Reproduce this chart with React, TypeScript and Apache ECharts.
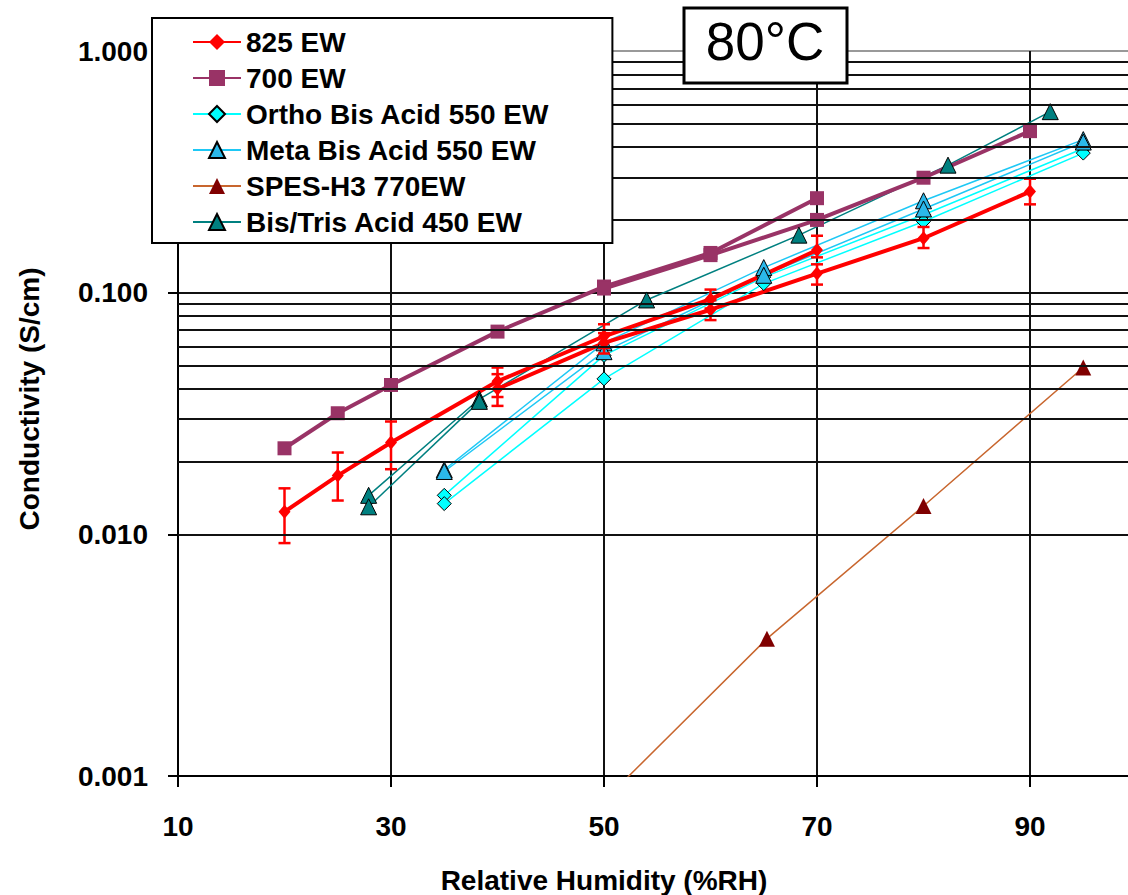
import React, { useEffect, useRef } from "react";
import * as echarts from "echarts";

// Relative humidity (%RH) and conductivity (S/cm) at 80 °C
const rh825A = [20, 25, 30, 40, 50, 60, 70];
const sigma825A = [0.0124, 0.0175, 0.024, 0.043, 0.066, 0.094, 0.15];
const low825A = [0.0092, 0.0138, 0.0186, 0.037, 0.059, 0.086, 0.14];
const high825A = [0.0155, 0.0218, 0.0293, 0.049, 0.074, 0.103, 0.172];

const rh825B = [40, 50, 60, 70, 80, 90];
const sigma825B = [0.04, 0.062, 0.085, 0.12, 0.168, 0.262];
const low825B = [0.034, 0.056, 0.077, 0.108, 0.153, 0.232];
const high825B = [0.046, 0.068, 0.093, 0.131, 0.187, 0.296];

const rh700A = [20, 25, 30, 40, 50, 60, 70];
const sigma700A = [0.0227, 0.0317, 0.0415, 0.069, 0.106, 0.146, 0.246];
const rh700B = [50, 60, 70, 80, 90];
const sigma700B = [0.104, 0.143, 0.2, 0.299, 0.466];

const rhOrtho = [35, 50, 65, 80, 95];
const sigmaOrthoA = [0.0145, 0.055, 0.116, 0.21, 0.395];
const sigmaOrthoB = [0.0134, 0.044, 0.109, 0.197, 0.378];

const rhMeta = [35, 50, 65, 80, 95];
const sigmaMetaA = [0.0185, 0.062, 0.127, 0.24, 0.43];
const sigmaMetaB = [0.0182, 0.057, 0.118, 0.222, 0.42];

const rhSpes = [50, 65.3, 80, 95];
const sigmaSpes = [0.00079, 0.0037, 0.0131, 0.049];

const rhBisTrisA = [27.9, 38.3, 54, 68.3, 82.3, 91.9];
const sigmaBisTrisA = [0.0145, 0.0363, 0.0933, 0.173, 0.337, 0.561];
const rhBisTrisB = [27.9, 38.3];
const sigmaBisTrisB = [0.013, 0.0355];

const seriesNames = [
  "825 EW",
  "700 EW",
  "Ortho Bis Acid 550 EW",
  "Meta Bis Acid 550 EW",
  "SPES-H3 770EW",
  "Bis/Tris Acid 450 EW",
];

const xTicks = [10, 30, 50, 70, 90];
const minorGridValues = [
  0.002, 0.003, 0.004, 0.005, 0.006, 0.007, 0.008, 0.009,
  0.02, 0.03, 0.04, 0.05, 0.06, 0.07, 0.08, 0.09,
  0.2, 0.3, 0.4, 0.5, 0.6, 0.7, 0.8, 0.9,
];

const FONT = "'Liberation Sans', Arial, sans-serif";

const pairs = (xs: number[], ys: number[]) => xs.map((x, i) => [x, ys[i]]);
const bars = (xs: number[], lo: number[], hi: number[]) =>
  xs.map((x, i) => [x, lo[i], hi[i]]);

function errorBarRender(params: any, api: any) {
  const x = api.value(0);
  const pLo = api.coord([x, api.value(1)]);
  const pHi = api.coord([x, api.value(2)]);
  const cap = 6;
  const style = { stroke: "#ff0000", lineWidth: 2.5 };
  return {
    type: "group",
    children: [
      { type: "line", shape: { x1: pLo[0], y1: pLo[1], x2: pHi[0], y2: pHi[1] }, style },
      { type: "line", shape: { x1: pLo[0] - cap, y1: pLo[1], x2: pLo[0] + cap, y2: pLo[1] }, style },
      { type: "line", shape: { x1: pHi[0] - cap, y1: pHi[1], x2: pHi[0] + cap, y2: pHi[1] }, style },
    ],
  };
}

function lineSeries(
  name: string,
  data: number[][],
  lineColor: string,
  lineWidth: number,
  symbol: string,
  symbolSize: number | number[],
  fill: string,
  border?: string
) {
  return {
    type: "line",
    name,
    data,
    symbol,
    symbolSize,
    showAllSymbol: true,
    clip: true,
    z: 2,
    lineStyle: { color: lineColor, width: lineWidth },
    itemStyle: border
      ? { color: fill, borderColor: border, borderWidth: 1 }
      : { color: fill, borderWidth: 0 },
    emphasis: { disabled: true },
  };
}

export default function App() {
  const ref = useRef<HTMLDivElement>(null);

  useEffect(() => {
    if (!ref.current) return;
    const chart = echarts.init(ref.current, null, { renderer: "svg" });

    const red = "#ff0000";
    const plum = "#993366";
    const teal = "#008080";

    chart.setOption({
      animation: false,
      backgroundColor: "#ffffff",
      grid: { left: 178, top: 51, right: 0, bottom: 119, containLabel: false },
      xAxis: {
        type: "value",
        min: 10,
        max: 99.2,
        interval: 20,
        axisLine: { show: true, onZero: false, lineStyle: { color: "#000", width: 2 } },
        axisTick: { show: true, length: 11, lineStyle: { color: "#000", width: 2 } },
        axisLabel: {
          margin: 36,
          fontSize: 28,
          fontWeight: "bold",
          fontFamily: FONT,
          color: "#000",
          showMaxLabel: false,
          formatter: (v: number) => (xTicks.indexOf(v) >= 0 ? String(v) : ""),
        },
        splitLine: {
          show: true,
          lineStyle: {
            color: ["#111", "#111", "#111", "#111", "#111", "rgba(0,0,0,0)"],
            width: 2,
          },
        },
      },
      yAxis: {
        type: "log",
        logBase: 10,
        min: 0.001,
        max: 1,
        axisLine: { show: true, onZero: false, lineStyle: { color: "#000", width: 2 } },
        axisTick: { show: true, length: 10, lineStyle: { color: "#000", width: 2 } },
        axisLabel: {
          margin: 30,
          fontSize: 28,
          fontWeight: "bold",
          fontFamily: FONT,
          color: "#000",
          formatter: (v: number) => v.toFixed(3),
        },
        splitLine: {
          show: true,
          lineStyle: { color: ["#111", "#111", "#111", "#999"], width: 2 },
        },
      },
      legend: {
        data: seriesNames,
        orient: "vertical",
        left: 152,
        top: 18,
        itemWidth: 48,
        itemHeight: 20,
        itemGap: 8,
        padding: [10, 63, 7, 40],
        backgroundColor: "#ffffff",
        borderColor: "#000",
        borderWidth: 2,
        selectedMode: false,
        z: 6,
        textStyle: {
          color: "#000",
          fontSize: 28,
          lineHeight: 28,
          fontWeight: "bold",
          fontFamily: FONT,
        },
      },
      graphic: [
        {
          type: "text",
          z: 10,
          x: 604,
          y: 880,
          style: {
            text: "Relative Humidity (%RH)",
            fontSize: 28,
            fontWeight: "bold",
            fontFamily: FONT,
            fill: "#000",
            align: "center",
            verticalAlign: "middle",
          },
        },
        {
          type: "text",
          z: 10,
          x: 29,
          y: 399,
          rotation: Math.PI / 2,
          style: {
            text: "Conductivity (S/cm)",
            fontSize: 28,
            fontWeight: "bold",
            fontFamily: FONT,
            fill: "#000",
            align: "center",
            verticalAlign: "middle",
          },
        },
        {
          type: "group",
          z: 20,
          children: [
            {
              type: "rect",
              shape: { x: 684, y: 8, width: 163, height: 75 },
              style: { fill: "#ffffff", stroke: "#000", lineWidth: 3 },
              z: 20,
            },
            {
              type: "text",
              x: 765,
              y: 41,
              z: 21,
              style: {
                text: "80°C",
                fontSize: 53,
                fontFamily: FONT,
                fill: "#000",
                align: "center",
                verticalAlign: "middle",
              },
            },
          ],
        },
      ],
      series: [
        {
          type: "line",
          name: "minor-grid",
          data: [],
          z: 1,
          silent: true,
          markLine: {
            silent: true,
            symbol: ["none", "none"],
            label: { show: false },
            lineStyle: { color: "#111", width: 2, type: "solid" },
            emphasis: { disabled: true },
            data: minorGridValues.map((v) => ({ yAxis: v })),
          },
        },
        lineSeries("SPES-H3 770EW", pairs(rhSpes, sigmaSpes), "#c8662e", 1.5, "triangle", 16, "#800000"),
        lineSeries("Bis/Tris Acid 450 EW", pairs(rhBisTrisA, sigmaBisTrisA), teal, 1.5, "triangle", 16, teal, "#000"),
        lineSeries("Bis/Tris Acid 450 EW", pairs(rhBisTrisB, sigmaBisTrisB), teal, 1.5, "triangle", 16, teal, "#000"),
        lineSeries("Ortho Bis Acid 550 EW", pairs(rhOrtho, sigmaOrthoA), "#00ffff", 1.5, "diamond", 14, "#00ffff", "#000"),
        lineSeries("Ortho Bis Acid 550 EW", pairs(rhOrtho, sigmaOrthoB), "#00ffff", 1.5, "diamond", 14, "#00ffff", "#000"),
        lineSeries("Meta Bis Acid 550 EW", pairs(rhMeta, sigmaMetaA), "#1ec8f5", 1.5, "triangle", 16, "#2bb8ea", "#000"),
        lineSeries("Meta Bis Acid 550 EW", pairs(rhMeta, sigmaMetaB), "#1ec8f5", 1.5, "triangle", 16, "#2bb8ea", "#000"),
        lineSeries("700 EW", pairs(rh700A, sigma700A), plum, 4, "rect", 14, plum),
        lineSeries("700 EW", pairs(rh700B, sigma700B), plum, 4, "rect", 14, plum),
        lineSeries("825 EW", pairs(rh825A, sigma825A), red, 4, "diamond", [12, 14], red),
        lineSeries("825 EW", pairs(rh825B, sigma825B), red, 4, "diamond", [12, 14], red),
        {
          type: "custom",
          name: "825 EW error A",
          z: 3,
          silent: true,
          renderItem: errorBarRender,
          encode: { x: 0, y: [1, 2] },
          data: bars(rh825A, low825A, high825A),
        },
        {
          type: "custom",
          name: "825 EW error B",
          z: 3,
          silent: true,
          renderItem: errorBarRender,
          encode: { x: 0, y: [1, 2] },
          data: bars(rh825B, low825B, high825B),
        },
      ],
    });

    return () => chart.dispose();
  }, []);

  return (
    <div
      ref={ref}
      style={{ position: "fixed", left: 0, top: 0, width: 1128, height: 895, background: "#fff" }}
    />
  );
}
